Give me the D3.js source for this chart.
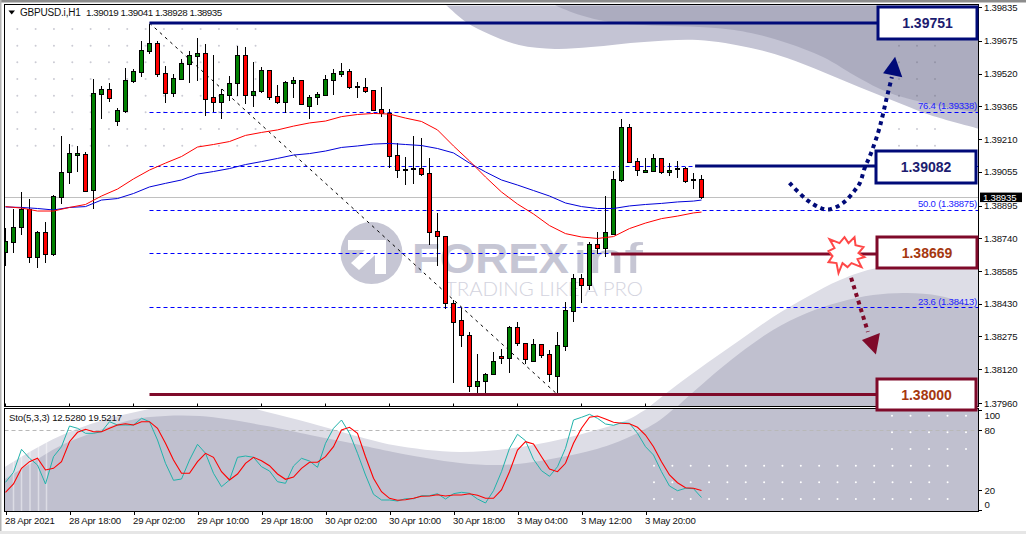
<!DOCTYPE html>
<html><head><meta charset="utf-8">
<script src="https://cdn.jsdelivr.net/npm/d3@7/dist/d3.min.js"></script>
<style>
html,body{margin:0;padding:0;background:#fff;overflow:hidden}
svg{display:block}
text{font-family:"Liberation Sans",Arial,sans-serif}
</style></head><body><svg id="c" width="1026" height="534"></svg>
<script>
const symbolName = "GBPUSD.i,H1";
const symbolValues = "1.39019 1.39041 1.38928 1.38935";
const stoLine = "Sto(5,3,3) 12.5280 19.5217";
const openP = [1.38675,1.38722,1.38793,1.38879,1.38651,1.38770,1.38665,1.38935,1.39054,1.39134,
1.39139,1.38968,1.39423,1.39447,1.39295,1.39343,1.39485,1.39527,1.39627,1.39665,
1.39522,1.39428,1.39494,1.39565,1.39603,1.39617,1.39409,1.39385,1.39418,1.39475,
1.39608,1.39418,1.39437,1.39537,1.39414,1.39385,1.39475,1.39489,1.39366,1.39409,
1.39418,1.39489,1.39518,1.39532,1.39456,1.39456,1.39442,1.39352,1.39333,1.39134,
1.39063,1.39068,1.39073,1.39049,1.38774,1.38751,1.38433,1.38353,1.38282,1.38040,
1.38064,1.38097,1.38182,1.38173,1.38320,1.38244,1.38159,1.38239,1.38192,1.38088,
1.38230,1.38396,1.38552,1.38519,1.38713,1.38694,1.38760,1.39016,1.39267,1.39106,
1.39054,1.39058,1.39120,1.39054,1.39068,1.39073,1.39021,1.39019];
const highP = [1.38789,1.38879,1.38959,1.38926,1.38774,1.38817,1.38945,1.39224,1.39186,1.39177,
1.39148,1.39494,1.39461,1.39475,1.39357,1.39546,1.39541,1.39674,1.39754,1.39674,
1.39556,1.39518,1.39589,1.39627,1.39688,1.39660,1.39608,1.39447,1.39508,1.39650,
1.39646,1.39575,1.39551,1.39537,1.39466,1.39485,1.39504,1.39489,1.39418,1.39432,
1.39513,1.39541,1.39570,1.39541,1.39480,1.39499,1.39442,1.39456,1.39352,1.39191,
1.39125,1.39224,1.39215,1.39120,1.38860,1.38751,1.38448,1.38410,1.38296,1.38192,
1.38102,1.38201,1.38216,1.38325,1.38343,1.38244,1.38263,1.38239,1.38211,1.38296,
1.38438,1.38571,1.38571,1.38722,1.38770,1.38940,1.39058,1.39305,1.39281,1.39120,
1.39120,1.39139,1.39120,1.39096,1.39106,1.39077,1.39049,1.39041];
const lowP = [1.38609,1.38670,1.38755,1.38623,1.38599,1.38623,1.38656,1.38902,1.38997,1.39054,
1.38964,1.38879,1.39305,1.39385,1.39271,1.39333,1.39475,1.39504,1.39612,1.39504,
1.39380,1.39409,1.39494,1.39475,1.39485,1.39319,1.39338,1.39305,1.39390,1.39414,
1.39376,1.39361,1.39428,1.39395,1.39376,1.39333,1.39404,1.39371,1.39305,1.39371,
1.39414,1.39418,1.39504,1.39447,1.39404,1.39428,1.39347,1.39314,1.39073,1.39025,
1.38992,1.38997,1.39035,1.38708,1.38609,1.38405,1.38055,1.38225,1.38012,1.38007,
1.38007,1.38092,1.38145,1.38102,1.38230,1.38145,1.38154,1.38173,1.38059,1.38003,
1.38206,1.38343,1.38433,1.38495,1.38665,1.38651,1.38760,1.39006,1.39101,1.39035,
1.39049,1.39054,1.39044,1.39035,1.39025,1.39002,1.38973,1.38928];
const closeP = [1.38727,1.38793,1.38879,1.38651,1.38770,1.38665,1.38940,1.39054,1.39144,1.39144,
1.38964,1.39428,1.39447,1.39404,1.39347,1.39489,1.39532,1.39631,1.39665,1.39518,
1.39428,1.39499,1.39570,1.39608,1.39617,1.39399,1.39385,1.39423,1.39475,1.39608,
1.39418,1.39437,1.39537,1.39409,1.39385,1.39480,1.39489,1.39376,1.39409,1.39423,
1.39494,1.39522,1.39532,1.39456,1.39461,1.39437,1.39347,1.39333,1.39129,1.39063,
1.39068,1.39073,1.39044,1.38770,1.38751,1.38433,1.38343,1.38282,1.38040,1.38064,
1.38097,1.38159,1.38173,1.38320,1.38244,1.38168,1.38239,1.38187,1.38097,1.38235,
1.38400,1.38552,1.38519,1.38713,1.38694,1.38770,1.39021,1.39267,1.39101,1.39063,
1.39063,1.39120,1.39054,1.39063,1.39073,1.39011,1.39016,1.38935];
// moving averages, read at every second candle (last one is candle 87)
const maIndex = [0,2,4,6,8,10,12,14,16,18,20,22,24,26,28,30,32,34,36,38,40,42,44,46,48,50,52,54,56,58,60,62,64,66,68,70,72,74,76,78,80,82,84,86,87];
const maBlue = [1.38888,1.38886,1.38881,1.38874,1.38886,1.38890,1.38921,1.38928,1.38952,1.38983,1.39000,1.39016,1.39044,1.39056,1.39070,1.39089,1.39103,1.39118,1.39134,1.39141,1.39153,1.39170,1.39177,1.39186,1.39189,1.39184,1.39179,1.39165,1.39144,1.39096,1.39054,1.39016,1.38992,1.38966,1.38940,1.38907,1.38890,1.38881,1.38881,1.38893,1.38900,1.38905,1.38912,1.38916,1.38921];
const maRed = [1.38890,1.38883,1.38869,1.38869,1.38886,1.38900,1.38940,1.38973,1.39021,1.39063,1.39096,1.39127,1.39172,1.39184,1.39198,1.39227,1.39241,1.39253,1.39271,1.39286,1.39295,1.39316,1.39326,1.39331,1.39328,1.39309,1.39293,1.39253,1.39177,1.39106,1.39030,1.38959,1.38902,1.38855,1.38800,1.38762,1.38746,1.38739,1.38748,1.38786,1.38812,1.38833,1.38845,1.38860,1.38864];
const stoMain = [27.7,37.7,60.7,51.7,45,26,53.3,63.3,84,81.7,76.7,76.7,78.3,88.3,85,85,85,91.7,88.3,70,46.7,29.7,31,50,65.7,56.7,36.7,23.3,30,52.7,54,52.7,43.3,39,28.3,26.7,44,51.7,49,42.7,66.7,81.7,90,76.7,56.7,
35,15.7,10,10,9,11.3,11.3,14.3,14.3,16.3,11,16.3,17.7,16.7,11,7,19.3,38.3,61.7,75.7,69.3,50.7,39.3,33.7,43.3,61.7,90,92.7,95.7,91.7,86,84.7,87.3,86.7,76.7,63.3,55,38.3,24,19.3,21.7,21.3,12.5];
const stoSignal = [17.7,26,41.7,48.3,51.7,40,41.7,48.3,68.3,77.7,80.7,78.3,78.3,81.7,85,86.3,85,88.3,88.3,81.7,66.7,50,36.7,36.7,48.3,56.7,52.7,38.3,30,36,46.7,52.7,49.3,44.3,36,30.7,33,41.7,47.7,47.7,53.3,63.3,80,82.7,76.7,
53.3,31.7,18.3,11.7,9.7,10.3,11.7,13.7,14,15.3,14,15,15,16.3,14.7,11.7,11.7,20,38.3,60,68.3,66,53.3,41,38.3,46.7,66.7,81.7,92.7,94,91,87.7,86.7,86.3,82.7,75,63.3,48.3,35,27.3,22.3,21.7,19.5];
const priceTicks = [1.39835,1.39675,1.39520,1.39365,1.39210,1.39055,1.38895,1.38740,1.38585,1.38430,1.38275,1.38120,1.37960];
const stoTicks = [100,80,20,0];
const timeIndex = [0,8,16,24,32,40,48,56,64,72,80];
const timeLabels = ["28 Apr 2021","28 Apr 18:00","29 Apr 02:00","29 Apr 10:00","29 Apr 18:00","30 Apr 02:00","30 Apr 10:00","30 Apr 18:00","3 May 04:00","3 May 12:00","3 May 20:00"];
const lastPrice = 1.38935;
const fibPrices = [1.39338,1.39082,1.38875,1.38669,1.38413];
const fibLabelled = [["76.4 (1.39338)",1.39338],["50.0 (1.38875)",1.38875],["23.6 (1.38413)",1.38413]];
const fibHigh = 1.39759, fibLow = 1.38000, fibHighIdx = 18, fibLowIdx = 69;
const upPath = [[98,1.39002],[100.2,1.38921],[101.9,1.38883],[102.9,1.38876],[104.7,1.38907],[106.1,1.38964],[106.8,1.39002],[107.4,1.39073],[108.1,1.39134],[109.1,1.39243],[109.6,1.39314],[110,1.39380],[110.3,1.39428],[110.8,1.39504]];
const upHead = [[111.2,1.39600],[109.7,1.39521],[112.1,1.39502]];
const downPath = [[105.7,1.38553],[107.8,1.38297]];
const downHead = [[107.05,1.38258],[109.3,1.38291],[108.8,1.38190]];
const NAVY="#000a78", MAROON="#7f0a2a";
const boxes = [
 {label:"1.39751",price:1.39759,from:18,col:NAVY,txt:"#1c1c70",x0:878,x1:977,y0:7,y1:39},
 {label:"1.39082",price:1.39082,from:86.2,col:NAVY,txt:"#1c1c70",x0:876,x1:976,y0:151,y1:183},
 {label:"1.38669",price:1.38665,from:75.7,col:MAROON,txt:"#a5380f",x0:877,x1:977,y0:237,y1:268},
 {label:"1.38000",price:1.38000,from:18,col:MAROON,txt:"#a5380f",x0:877,x1:976,y0:379,y1:410}
];

const svg=d3.select("#c");
const x=d3.scaleLinear().domain([0,87]).range([5.5,701.5]);
const y=d3.scaleLinear().domain([1.37960,1.39835]).range([403,7]);
const ys=d3.scaleLinear().domain([0,100]).range([510,410]);
const L=4.5,R=978.5,T=5.5,B=406.5,ST=408.5,SB=511.5;

svg.append("rect").attr("width",1026).attr("height",534).attr("fill","#fff");
svg.append("rect").attr("width",1026).attr("height",2.5).attr("fill","#8c8c8c");
svg.append("rect").attr("width",1.5).attr("height",534).attr("fill","#b4b4b4");
svg.append("rect").attr("y",531).attr("width",1026).attr("height",3).attr("fill","#e6e6e6");

const defs=svg.append("defs");
defs.append("clipPath").attr("id","m").append("rect").attr("x",L).attr("y",T).attr("width",R-L).attr("height",B-T);
defs.append("clipPath").attr("id","s").append("rect").attr("x",L).attr("y",ST).attr("width",R-L).attr("height",SB-ST);

const curve=d3.line().curve(d3.curveCatmullRom.alpha(.5));
const LIGHTT="#c4c4d4",DARKT="#acacbf",LIGHTB="#dddde6",DARKB="#c0c0cf";
const main=svg.append("g").attr("clip-path","url(#m)");
// background artwork
const close=(pts,extra)=>curve(pts)+extra+"Z";
main.append("path").attr("fill",LIGHTT).attr("d",close([[440,0],[446,5],[466,22],[491,35],[519,45],[555,49],[591,47],[644,42],[698,40],[751,48],[787,58],[823,72],[859,87],[894,101],[930,115],[980,129]],"L980,0"));
main.append("path").attr("fill",DARKT).attr("d",close([[548,0],[555,5],[580,15],[609,22],[644,25],[716,28],[751,33],[787,43],[823,57],[859,78],[887,92],[930,104],[980,113]],"L980,0"));
main.append("path").attr("fill",LIGHTB).attr("d",close([[630,420],[645,410],[673,388],[707,363],[740,340],[773,317],[807,297],[840,280],[877,268],[910,267],[980,269]],"L980,420"));
main.append("path").attr("fill",DARKB).attr("d",close([[665,420],[677,407],[707,380],[740,353],[773,330],[807,313],[840,302],[873,295],[907,293],[940,296],[980,308]],"L980,420"));
const sto=svg.append("g").attr("clip-path","url(#s)");
sto.append("path").attr("fill",LIGHTB).attr("d",close([[0,470],[33,450],[60,436],[100,421],[140,411],[180,404],[235,404],[267,412],[310,423],[360,437],[393,445],[460,452],[533,445],[593,431],[627,420],[645,410],[665,398]],"L980,398L980,520L0,520"));
sto.append("path").attr("fill",DARKB).attr("d",close([[0,482],[33,462],[60,446],[100,430],[127,421],[150,417],[200,416],[267,426],[310,435],[360,445],[393,452],[460,463],[500,465],[533,462],[593,450],[627,438],[660,420],[680,403]],"L980,403L980,520L0,520"));
[13.5,21.5,30,38.5,46.5].forEach(px=>sto.append("line").attr("x1",px).attr("x2",px).attr("y1",438).attr("y2",511).attr("stroke","#fff").attr("stroke-opacity",.45).attr("stroke-width",1.5));
// dots
const dots=(g,xs,ys2,c,r)=>xs.forEach(a=>ys2.forEach(b=>g.append("circle").attr("cx",a).attr("cy",b).attr("r",r).attr("fill",c)));
const dotX=k=>17.3+18.33*k, dotY=k=>29+16.67*k;
dots(main,d3.range(14).map(dotX),d3.range(8).map(dotY),"#cbcbd4",1);
dots(main,[899,917,935],[45.7,62.3,79,95.7],"#9494a6",1);
dots(main,[899,917,935],[129,145.7],"#cbcbd4",1);
dots(sto,d3.range(17).map(k=>654+18.35*k),[465.7,482.3,499],"#fff",1);
dots(sto,d3.range(5).map(k=>892+18.5*k),[415.7,432.3,449],"#fff",1);

// logo watermark
const wm=main.append("g");
wm.append("circle").attr("cx",371.5).attr("cy",253).attr("r",31).attr("fill","#c6c6d4");
wm.append("path").attr("fill","#fff").attr("d","M348,240H386V274H375V255L359,270L351,263L365,250H348Z");
wm.append("text").attr("x",412).attr("y",273).attr("font-size",43).attr("font-weight",700).attr("fill","#c6c6d4").attr("textLength",157).attr("lengthAdjust","spacingAndGlyphs").text("FOREX");
wm.append("text").attr("x",573).attr("y",273).attr("font-size",43).attr("font-weight",400).attr("fill","#c6c6d4").attr("textLength",70).attr("lengthAdjust","spacingAndGlyphs").text("inf");
wm.append("text").attr("x",445).attr("y",296).attr("font-size",19).attr("fill","#d3d3de").style("font-family","Lato").attr("font-weight",300).attr("textLength",198).attr("lengthAdjust","spacingAndGlyphs").text("TRADING LIKE A PRO");

// levels
main.append("line").attr("x1",L).attr("x2",R).attr("y1",Math.round(y(lastPrice))+.5).attr("y2",Math.round(y(lastPrice))+.5).attr("stroke","#c0c0c0");
main.selectAll("line.fib").data(fibPrices).join("line").attr("class","fib")
 .attr("x1",x(fibHighIdx)).attr("x2",R).attr("y1",d=>Math.round(y(d))+.5).attr("y2",d=>Math.round(y(d))+.5)
 .attr("stroke","#0000ff").attr("stroke-dasharray","4 3");
main.append("line").attr("x1",x(fibHighIdx)).attr("y1",y(fibHigh)).attr("x2",x(fibLowIdx)).attr("y2",y(fibLow)).attr("stroke","#000").attr("stroke-dasharray","3 4");

// candles
const cs=main.append("g").attr("shape-rendering","crispEdges");
const data=openP.map((o,i)=>({i,o,h:highP[i],l:lowP[i],c:closeP[i]}));
cs.selectAll("line").data(data).join("line").attr("x1",d=>x(d.i)).attr("x2",d=>x(d.i)).attr("y1",d=>y(d.h)).attr("y2",d=>y(d.l)).attr("stroke","#000");
cs.selectAll("rect").data(data).join("rect")
 .attr("x",d=>x(d.i)-2).attr("width",4)
 .attr("y",d=>Math.round(y(Math.max(d.o,d.c)))+.5)
 .attr("height",d=>Math.max(1,Math.round(y(Math.min(d.o,d.c)))-Math.round(y(Math.max(d.o,d.c)))))
 .attr("fill",d=>d.c>=d.o?"#008000":"#ff0000").attr("stroke","#000");

// MAs
const maLine=d3.line().x((d,i)=>x(maIndex[i])).y(d=>y(d));
main.append("path").attr("d",maLine(maBlue)).attr("fill","none").attr("stroke","#0000d8").attr("stroke-width",1);
main.append("path").attr("d",maLine(maRed)).attr("fill","none").attr("stroke","#ff0000").attr("stroke-width",1);

// fib labels
main.selectAll("text.fl").data(fibLabelled).join("text").attr("class","fl").attr("x",977).attr("y",d=>y(d[1])-2.5).attr("text-anchor","end").attr("font-size",9.5).attr("letter-spacing",-0.2).attr("fill","#2222ff").text(d=>d[0]);

// zone lines and boxes
boxes.forEach(b=>{
 svg.append("line").attr("x1",x(b.from)).attr("x2",b.x0).attr("y1",y(b.price)).attr("y2",y(b.price)).attr("stroke",b.col).attr("stroke-width",3);
});
// arrows
const dotted=d3.line().x(d=>x(d[0])).y(d=>y(d[1])).curve(d3.curveCatmullRom.alpha(.5));
const poly=p=>"M"+p.map(d=>[x(d[0]),y(d[1])].join(",")).join("L")+"Z";
svg.append("path").attr("d",dotted(upPath)).attr("fill","none").attr("stroke",NAVY).attr("stroke-width",4).attr("stroke-dasharray","4 4");
svg.append("path").attr("d",poly(upHead)).attr("fill",NAVY);
svg.append("path").attr("d",dotted(downPath)).attr("fill","none").attr("stroke",MAROON).attr("stroke-width",4).attr("stroke-dasharray","4 4");
svg.append("path").attr("d",poly(downHead)).attr("fill",MAROON);
// burst on the 1.38669 level
const burst=[[-17,-15],[-7,-11],[-2,-17],[2,-11],[8,-17],[9,-9],[17,-7],[12,-1],[18,3],[11,5],[15,13],[5,9],[1,13],[-4,9],[-8,19],[-10,9],[-18,8],[-14,2],[-18,-3],[-12,-6]];
svg.append("path").attr("transform",`translate(846.5,${y(1.38665)})`).attr("d","M"+burst.map(p=>p.join(",")).join("L")+"Z").attr("fill","#fff").attr("stroke","#ff4848").attr("stroke-width",2);

// stochastic
const s80=Math.round(ys(80))+.5;
sto.append("line").attr("x1",L).attr("x2",R).attr("y1",s80).attr("y2",s80).attr("stroke","#b8b8b8").attr("stroke-dasharray","4 3");
const stoL=d3.line().x((d,i)=>x(i)).y(d=>ys(d));
sto.append("path").attr("d",stoL(stoMain)).attr("fill","none").attr("stroke","#20b2aa").attr("stroke-width",1);
sto.append("path").attr("d",stoL(stoSignal)).attr("fill","none").attr("stroke","#ff0000").attr("stroke-width",1.1);

// frames
const fr=svg.append("g").attr("fill","none").attr("stroke","#000").attr("shape-rendering","crispEdges");
fr.append("rect").attr("x",L).attr("y",T-1).attr("width",R-L).attr("height",B-T+1);
fr.append("rect").attr("x",L).attr("y",ST).attr("width",R-L).attr("height",SB-ST);

// boxes over frame
boxes.forEach(b=>{
 svg.append("rect").attr("x",b.x0).attr("y",b.y0).attr("width",b.x1-b.x0).attr("height",b.y1-b.y0).attr("fill","#fff").attr("stroke",b.col).attr("stroke-width",3);
 svg.append("text").attr("x",(b.x0+b.x1)/2).attr("y",(b.y0+b.y1)/2+5).attr("text-anchor","middle").attr("font-size",14).attr("font-weight",700).attr("fill",b.txt).text(b.label);
});

// axes
const styleAxis=g=>{g.select(".domain").remove();g.selectAll("line").attr("stroke","#000").attr("shape-rendering","crispEdges");g.selectAll("text").attr("font-size",9.6).attr("letter-spacing",-0.2).attr("fill","#111").style("font-family",'"Liberation Sans",Arial,sans-serif');};
svg.append("g").attr("transform",`translate(${R},0)`).call(d3.axisRight(y).tickValues(priceTicks).tickFormat(d=>d.toFixed(5)).tickSize(3).tickPadding(2.5)).call(styleAxis);
const sPos={100:415.7,80:430.7,20:490,0:504.3};
const sa=svg.append("g").attr("transform",`translate(${R},0)`).call(d3.axisRight(ys).tickValues(stoTicks).tickSize(3).tickPadding(3)).call(styleAxis);
sa.selectAll("text").attr("y",d=>sPos[d]-ys(d));
const xa=svg.append("g").attr("transform",`translate(0,${SB})`).call(d3.axisBottom(x).tickValues(timeIndex).tickFormat((d,i)=>timeLabels[i]).tickSize(3).tickPadding(2)).call(styleAxis);
xa.selectAll("text").attr("text-anchor","start").attr("dx",-1).attr("y",6);
svg.append("g").attr("transform",`translate(0,${B})`).selectAll("line").data(timeIndex).join("line").attr("x1",d=>x(d)).attr("x2",d=>x(d)).attr("y1",-3).attr("y2",0).attr("stroke","#000");

// last price tag
const ly=y(lastPrice);
svg.append("rect").attr("x",980).attr("y",ly-4.5).attr("width",42).attr("height",9.5).attr("fill","#000");
svg.append("text").attr("x",983).attr("y",ly+3.5).attr("font-size",9.6).attr("letter-spacing",-0.2).attr("fill","#fff").text(lastPrice.toFixed(5));

// titles
svg.append("path").attr("d","M8.5,10.5H15L11.7,14.5Z").attr("fill","#000");
svg.append("text").attr("x",20).attr("y",16).attr("font-size",10).attr("letter-spacing",-0.2).attr("fill","#111").text(symbolName);
svg.append("text").attr("x",86).attr("y",16).attr("font-size",9.8).attr("letter-spacing",-0.45).attr("fill","#111").text(symbolValues);
svg.append("text").attr("x",9).attr("y",421).attr("font-size",9.6).attr("letter-spacing",-0.15).attr("fill","#111").text(stoLine);
</script></body></html>
